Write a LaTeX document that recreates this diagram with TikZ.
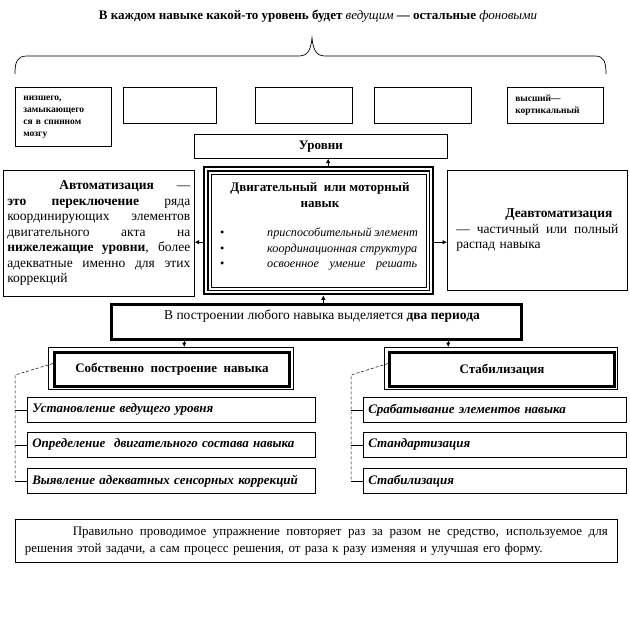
\documentclass[tikz,border=0pt]{standalone}
\usepackage{fontspec}
\setmainfont{Liberation Serif}
\usetikzlibrary{arrows.meta}
\newcommand{\fsz}[2]{\fontsize{#1}{#2}\selectfont}
\newcommand{\spreadline}[2]{\leavevmode\hbox to #1{\spaceskip=0.25em plus 2em minus 0.05em\relax #2}}
\begin{document}
\begin{tikzpicture}[x=1pt,y=-1pt,
  bx/.style={draw=black, line width=0.6pt, inner sep=0pt, anchor=north west},
  arr/.style={-{Latex[length=4.5pt,width=4.5pt]}, line width=0.6pt},
  link/.style={line width=0.5pt, densely dashed},
  itm/.style={bx, minimum height=25pt, inner xsep=5pt, align=left, font=\fsz{13}{15}\bfseries\itshape},
  body/.style={font=\fsz{13.5}{15.5}},
]
\useasboundingbox (0,0) rectangle (630,626);

% title and brace
\node[anchor=base, inner sep=0pt, font=\fsz{13}{15}\bfseries] (title) at (318,20)
  {В каждом навыке какой-то уровень будет \textit{\mdseries ведущим} — остальные \textit{\mdseries фоновыми}};
\coordinate (bl) at (15,74);
\coordinate (br) at (606,74);
\coordinate (bt) at (312,38);
\draw[line width=0.7pt] (bl) .. controls (15,62) and (17,56) .. (27,56) -- (300,56)
  .. controls (307,56) and (311,50) .. (bt) .. controls (313,50) and (317,56) .. (324,56)
  -- (595,56) .. controls (604,56) and (606,62) .. (br);

% top row of level boxes
\node[bx, minimum width=96pt, minimum height=59pt, text width=80pt, align=left,
  font=\fsz{9.5}{12}\bfseries] (lv1) at (15,87) {низшего,\\замыкающего\\ся в спинном\\мозгу};
\node[bx, minimum width=93pt, minimum height=36pt] (lv2) at (123,87) {};
\node[bx, minimum width=97pt, minimum height=36pt] (lv3) at (255,87) {};
\node[bx, minimum width=97pt, minimum height=36pt] (lv4) at (374,87) {};
\node[bx, minimum width=96pt, minimum height=36pt, text width=80pt, align=left,
  font=\fsz{9.5}{12}\bfseries] (lv5) at (507,87) {высший—\\кортикальный};

\node[bx, minimum width=253pt, minimum height=24pt, font=\fsz{13}{15}\bfseries] (levels) at (194,134) {Уровни};

% central skill box
\node[bx, line width=2.4pt, minimum width=229pt, minimum height=127pt] (skill) at (203,166) {};
\draw[line width=1.2pt] ([xshift=5pt,yshift=-5pt]skill.north west) rectangle ([xshift=-5pt,yshift=5pt]skill.south east);
\draw[line width=0.6pt] ([xshift=8pt,yshift=-8pt]skill.north west) rectangle ([xshift=-8pt,yshift=8pt]skill.south east);
\node[anchor=base, inner sep=0pt, align=center, font=\fsz{13}{16}\bfseries] (skt) at (320,207)
  {Двигательный\ \ или моторный\\навык};
\node[anchor=base west, inner sep=0pt, font=\fsz{12.2}{15}] (s1) at (217,236)
  {\makebox[10pt]{•}\hspace{40pt}\spreadline{150pt}{\itshape приспособительный элемент}};
\node[anchor=base west, inner sep=0pt, font=\fsz{12.2}{15}] (s2) at (217,252)
  {\makebox[10pt]{•}\hspace{40pt}\spreadline{150pt}{\itshape координационная структура}};
\node[anchor=base west, inner sep=0pt, font=\fsz{12.2}{15}] (s3) at (217,267)
  {\makebox[10pt]{•}\hspace{40pt}\spreadline{150pt}{\itshape освоенное умение решать}};

% side boxes
\node[bx, body, minimum width=191pt, minimum height=126pt, text width=183pt, align=left] (auto) at (3,170)
  {\makebox[183pt][l]{\hspace*{52pt}\textbf{Автоматизация}\hfill —}\\
   \spreadline{183pt}{\textbf{это} \textbf{переключение} ряда}\\
   \spreadline{183pt}{координирующих элементов}\\
   \spreadline{183pt}{двигательного акта на}\\
   \spreadline{183pt}{\textbf{нижележащие уровни}, более}\\
   \spreadline{183pt}{адекватные именно для этих}\\
   коррекций};
\node[bx, body, minimum width=180pt, minimum height=120pt, text width=162pt, align=left] (deauto) at (447,170)
  {\hspace*{49pt}\textbf{Деавтоматизация}\\
   \spreadline{162pt}{— частичный или полный}\\
   распад навыка};

% two periods
\node[bx, line width=2.6pt, minimum width=410pt, minimum height=35pt] (periods) at (110,303) {};
\node[anchor=base, inner sep=0pt, body] (pert) at (322,319)
  {В построении любого навыка выделяется \textbf{два периода}};

\node[bx, minimum width=245pt, minimum height=42pt] (buildout) at (48,347) {};
\node[bx, line width=3pt, minimum width=235pt, minimum height=34pt, font=\fsz{13}{15}\bfseries] (build) at (53,351)
  {Собственно\ \ построение\ \ навыка};
\node[bx, minimum width=233pt, minimum height=42pt] (stabout) at (384,347) {};
\node[bx, line width=3pt, minimum width=225pt, minimum height=34pt, font=\fsz{13}{15}\bfseries] (stab) at (388,351)
  {Стабилизация};

% items
\node[itm, minimum width=288pt, text width=278pt] (a1) at (27,397) {Установление ведущего уровня};
\node[itm, minimum width=288pt, text width=278pt] (a2) at (27,432) {Определение\ \ двигательного состава навыка};
\node[itm, minimum width=288pt, text width=278pt] (a3) at (27,468) {Выявление адекватных сенсорных коррекций};
\node[itm, minimum width=263pt, text width=253pt] (b1) at (363,397) {Срабатывание элементов навыка};
\node[itm, minimum width=263pt, text width=253pt] (b2) at (363,432) {Стандартизация};
\node[itm, minimum width=263pt, text width=253pt] (b3) at (363,468) {Стабилизация};

% bottom note
\node[bx, font=\fsz{13}{17}, minimum width=602pt, minimum height=43pt, inner xsep=9.5pt, text width=583pt, align=left] (note) at (15,519)
  {\spreadline{583pt}{\hspace*{48pt}Правильно проводимое упражнение повторяет раз за разом не средство, используемое для}\\
   решения этой задачи,\ а сам процесс решения, от раза к разу изменяя и улучшая его форму.};

% arrows
\draw[arr] ([xshift=9.5pt]skill.north) -- ([xshift=9.5pt]skill.north |- levels.south);
\draw[arr] ([xshift=7pt]periods.north) -- ([xshift=7pt]periods.north |- skill.south);
\draw[arr] ([yshift=-11.5pt]skill.west) -- ([yshift=-11.5pt]skill.west -| auto.east);
\draw[arr] ([yshift=-11.5pt]skill.east) -- ([yshift=-11.5pt]skill.east -| deauto.west);
\draw[arr] ([xshift=-132pt]periods.south) -- ([xshift=-132pt]periods.south |- buildout.north);
\draw[arr] ([xshift=132pt]periods.south) -- ([xshift=132pt]periods.south |- stabout.north);

% left and right trees
\coordinate (lk) at (15,375);
\coordinate (rk) at (351,375);
\draw[link] ([yshift=6pt]build.west) -- (lk) -- (lk |- a3.west);
\draw[line width=0.5pt] (lk |- a1.west) -- (a1.west);
\draw[line width=0.5pt] (lk |- a2.west) -- (a2.west);
\draw[line width=0.5pt] (lk |- a3.west) -- (a3.west);
\draw[link] ([yshift=6pt]stab.west) -- (rk) -- (rk |- b3.west);
\draw[line width=0.5pt] (rk |- b1.west) -- (b1.west);
\draw[line width=0.5pt] (rk |- b2.west) -- (b2.west);
\draw[line width=0.5pt] (rk |- b3.west) -- (b3.west);
\end{tikzpicture}
\end{document}
